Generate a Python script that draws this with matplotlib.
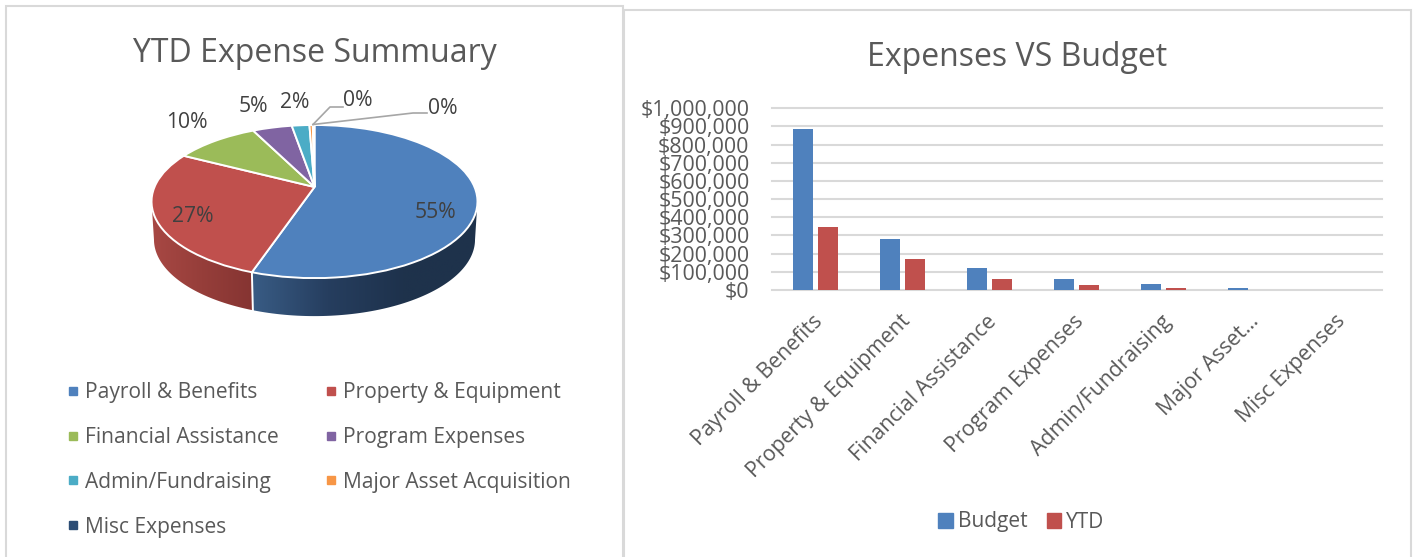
import numpy as np
import matplotlib
matplotlib.use("Agg")
import matplotlib.pyplot as plt
from matplotlib.lines import Line2D
from matplotlib.patches import Patch, Polygon, Rectangle
from matplotlib.transforms import Transform, ScaledTranslation

plt.rcParams['font.family'] = ['Open Sans', 'DejaVu Sans']

# ---- data ----
pie_categories = ["Payroll & Benefits", "Property & Equipment", "Financial Assistance",
                  "Program Expenses", "Admin/Fundraising", "Major Asset Acquisition", "Misc Expenses"]
pie_shares = [55.2, 27.4, 10.0, 4.7, 2.1, 0.4, 0.2]
bar_categories = ["Payroll & Benefits", "Property & Equipment", "Financial Assistance",
                  "Program Expenses", "Admin/Fundraising", "Major Asset\u2026", "Misc Expenses"]
budget = [888000, 281000, 123000, 58000, 31000, 9000, 0]
ytd = [345000, 171000, 60000, 29000, 13000, 0, 0]
y_ticks = [0, 100000, 200000, 300000, 400000, 500000, 600000, 700000, 800000, 900000, 1000000]

# ---- style ----
W, H = 1414, 557
TXT = '#595959'
LINE = '#D9D9D9'
COLORS = ['#4F81BD', '#C0504D', '#9BBB59', '#8064A2', '#4BACC6', '#F79646', '#2C4D75']

fig = plt.figure(figsize=(W / 100, H / 100), dpi=100, facecolor='white')
ax = fig.add_axes([0, 0, 1, 1])

# perspective of the pie disc, in pixel coordinates of the full-figure axes
CX, APEX_Y, A, B, K = 314.5, 187.0, 73.8, 160.0, 0.19
DEPTH = 38.0


class Disc(Transform):
    input_dims = output_dims = 2
    is_affine = False
    has_inverse = False

    def transform_non_affine(self, values):
        v = np.asarray(values, dtype=float)
        d = 1 + K * v[:, 1]
        return np.column_stack([CX + B * v[:, 0] / d, APEX_Y - A * v[:, 1] / d])


disc = Disc()


def rim(th_deg, dy=0.0, shrink=1.0):
    th = np.radians(th_deg)
    u, v = np.sin(th), np.cos(th)
    p = disc.transform_non_affine(np.column_stack([u, v]))
    p[:, 0] = CX + (p[:, 0] - CX) * shrink
    p[:, 1] += dy
    return p


wedges, _ = ax.pie(pie_shares, colors=COLORS, startangle=90, counterclock=False, radius=1,
                   wedgeprops=dict(edgecolor='white', linewidth=1.4))
ax.set_aspect('auto')
for w in wedges:
    w.set_transform(disc + ax.transData)
    w.set_zorder(5)

# side wall with gradients
seam = pie_shares[0] * 3.6
right_th = np.degrees(np.arccos(-K))
left_th = 360 - right_th
sides = [
    (right_th, seam, [(57, 92, 133), (38, 62, 95), (30, 50, 76), (30, 50, 75)], 252, 478),
    (seam, left_th, [(168, 72, 68), (150, 62, 58), (133, 52, 50)], 150, 254),
]
for t0, t1, ramp, x0, x1 in sides:
    ths = np.linspace(t0, t1, 80)
    pts = np.vstack([rim(ths), rim(ths[::-1], DEPTH, 0.985)])
    poly = Polygon(pts, closed=True, transform=ax.transData, facecolor='none', edgecolor='none')
    ax.add_patch(poly)
    ramp = np.array(ramp, dtype=float) / 255
    xs = np.linspace(0, 1, 200)
    idx = xs * (len(ramp) - 1)
    grad = np.stack([np.interp(idx, np.arange(len(ramp)), ramp[:, c]) for c in range(3)], axis=-1)
    im = ax.imshow(grad[np.newaxis, :, :], extent=[x0, x1, 330, 190], aspect='auto', zorder=2)
    im.set_clip_path(poly)
sx = rim(np.array([seam]))[0]
ax.plot([sx[0], sx[0] + 1], [sx[1], sx[1] + DEPTH], color='white', lw=1.4, zorder=3)

ax.set_xlim(0, W)
ax.set_ylim(H, 0)
ax.set_axis_off()

# panel frames
ax.add_patch(Rectangle((624, 10), 787, 560, fill=False, ec=LINE, lw=1.5, zorder=1))
ax.add_patch(Rectangle((6, 6), 617, 570, facecolor='white', ec=LINE, lw=1.5, zorder=1.5))

ax.text(315, 53, "YTD Expense Summuary", ha='center', va='center', fontsize=23, color=TXT, zorder=6)

# pie labels
pct = [f"{round(s)}%" for s in pie_shares]
pos = [(435, 212), (193, 216), (187, 122), (253, 106), (295, 102), (358, 101), (443, 108)]
for s, (x, y) in zip(pct, pos):
    ax.text(x, y, s, ha='center', va='center', fontsize=15.2, color='#404040', zorder=6)
ax.plot([313, 330, 343], [124.5, 107, 107], color='#A6A6A6', lw=1.2, zorder=6)
ax.plot([313, 413, 427], [124.5, 113, 113], color='#A6A6A6', lw=1.2, zorder=6)

# pie legend: two columns, filled row by row in the reference
order = [0, 2, 4, 6, 1, 3, 5]
handles = [Line2D([], [], ls='none', marker='s', ms=5.8, color=COLORS[i]) for i in order]
ax.legend(handles, [pie_categories[i] for i in order], ncols=2, frameon=False,
          loc='upper left', bbox_to_anchor=(67, 382), bbox_transform=ax.transData,
          fontsize=15.1, labelcolor=TXT, handlelength=0.6, handletextpad=0.28,
          columnspacing=2.15, labelspacing=1.14, borderpad=0, borderaxespad=0)

# bar chart
ax2 = fig.add_axes([771.7 / W, 1 - 290 / H, 610 / W, (290 - 108.3) / H])
ax2.patch.set_alpha(0)
x = np.arange(len(bar_categories))
ax2.bar(x - 0.1434, budget, 0.2295, color=COLORS[0], label='Budget', zorder=3)
ax2.bar(x + 0.1434, ytd, 0.2295, color=COLORS[1], label='YTD', zorder=3)
ax2.set_xlim(-0.5, len(x) - 0.5)
ax2.set_ylim(0, 1000000)
ax2.set_yticks(y_ticks)
ax2.set_yticklabels([f"${v:,}" for v in y_ticks], fontsize=15.4, color=TXT)
ax2.set_xticks(x)
ax2.set_xticklabels(bar_categories, rotation=45, ha='right', rotation_mode='anchor',
                    fontsize=15.3, color=TXT)
ax2.tick_params(axis='both', length=0)
ax2.tick_params(axis='y', pad=16)
ax2.tick_params(axis='x', pad=15)
shift = ScaledTranslation(-3 / 100, 0, fig.dpi_scale_trans)
for lab in ax2.get_xticklabels():
    lab.set_transform(lab.get_transform() + shift)
for sp in ax2.spines.values():
    sp.set_visible(False)
ax2.grid(axis='y', color=LINE, lw=1.5, zorder=0, clip_on=False)
ax2.set_axisbelow(True)
for line in ax2.get_ygridlines():
    line.set_clip_on(False)

ax.text(1017, 57, "Expenses VS Budget", ha='center', va='center', fontsize=23, color=TXT, zorder=6)
ax2.legend(handles=[Patch(color=COLORS[0], label='Budget'), Patch(color=COLORS[1], label='YTD')],
           ncols=2, frameon=False, loc='center', bbox_to_anchor=(1021.5, 522),
           bbox_transform=ax.transData, fontsize=15, labelcolor=TXT,
           handlelength=0.7, handleheight=0.7, handletextpad=0.25, columnspacing=0.9,
           borderpad=0, borderaxespad=0)

fig.savefig('out.png', dpi=100)
